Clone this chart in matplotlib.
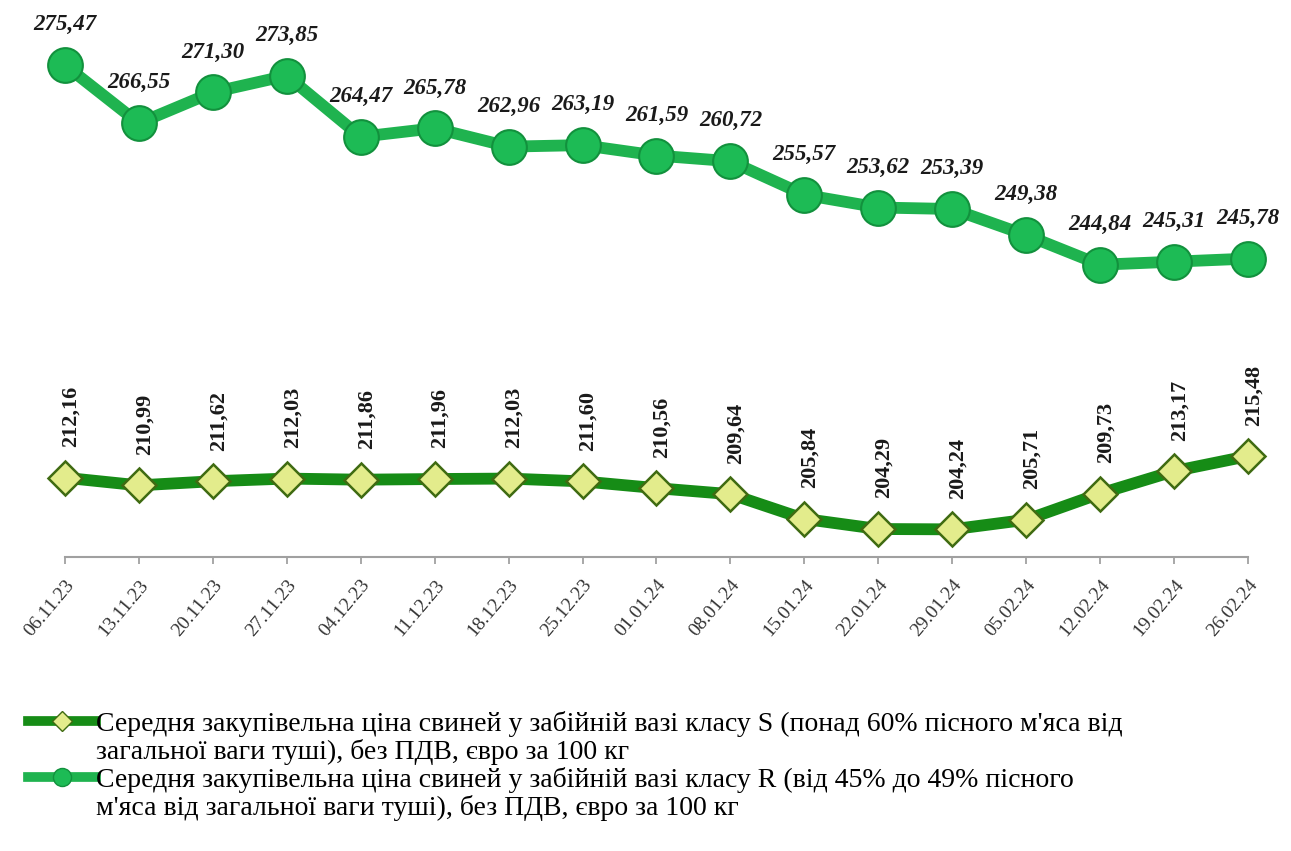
import matplotlib.pyplot as plt
from matplotlib.lines import Line2D

dates = ['06.11.23', '13.11.23', '20.11.23', '27.11.23', '04.12.23', '11.12.23',
         '18.12.23', '25.12.23', '01.01.24', '08.01.24', '15.01.24', '22.01.24',
         '29.01.24', '05.02.24', '12.02.24', '19.02.24', '26.02.24']
class_r = [275.47, 266.55, 271.30, 273.85, 264.47, 265.78, 262.96, 263.19, 261.59,
           260.72, 255.57, 253.62, 253.39, 249.38, 244.84, 245.31, 245.78]
class_s = [212.16, 210.99, 211.62, 212.03, 211.86, 211.96, 212.03, 211.60, 210.56,
           209.64, 205.84, 204.29, 204.24, 205.71, 209.73, 213.17, 215.48]

label_s = ['Середня закупівельна ціна свиней у забійній вазі класу S (понад 60% пісного м\'яса від',
           'загальної ваги туші), без ПДВ, євро за 100 кг']
label_r = ['Середня закупівельна ціна свиней у забійній вазі класу R (від 45% до 49% пісного',
           'м\'яса від загальної ваги туші), без ПДВ, євро за 100 кг']

plt.rcParams['font.family'] = ['Liberation Serif', 'DejaVu Serif']

fig = plt.figure(figsize=(12.91, 8.51), dpi=100)
ax = fig.add_axes([0.0503, 0.3455, 0.9164, 0.651])

x = list(range(len(dates)))

ax.plot(x, class_r, color='#1fb34f', lw=8.5, marker='o', ms=25,
        markerfacecolor='#1dbb55', markeredgecolor='#12913d', markeredgewidth=1.5,
        zorder=3, clip_on=False)
ax.plot(x, class_s, color='#168c16', lw=8.5, marker='D', ms=17,
        markerfacecolor='#e3ec8c', markeredgecolor='#3f6b12', markeredgewidth=1.8,
        zorder=3, clip_on=False)

for i, v in enumerate(class_r):
    ax.annotate(f'{v:.2f}'.replace('.', ','), (i, v), xytext=(0, 29), textcoords='offset points',
                ha='center', va='center', fontsize=16.5, fontweight='bold', fontstyle='italic',
                color='#1a1a1a')

for i, v in enumerate(class_s):
    ax.annotate(f'{v:.2f}'.replace('.', ','), (i, v), xytext=(4, 22), textcoords='offset points',
                ha='center', va='bottom', rotation=90, fontsize=16, fontweight='bold',
                color='#1a1a1a')

ax.set_xlim(0, len(dates) - 1)
ax.set_ylim(200, 285)
ax.set_xticks(x)
ax.set_xticklabels(dates, rotation=50, ha='right', rotation_mode='anchor',
                   fontsize=14, color='#333333')
ax.tick_params(axis='x', length=5, color='#999999', width=1.2, pad=9)
ax.set_yticks([])
for s in ['top', 'right', 'left']:
    ax.spines[s].set_visible(False)
ax.spines['bottom'].set_color('#a0a0a0')
ax.spines['bottom'].set_linewidth(1.5)

h_s = Line2D([], [], color='#168c16', lw=7, marker='D', ms=10,
             markerfacecolor='#e3ec8c', markeredgecolor='#3f6b12')
h_r = Line2D([], [], color='#1fb34f', lw=7, marker='o', ms=13,
             markerfacecolor='#1dbb55', markeredgecolor='#12913d')
blank = Line2D([], [], color='none')

fig.legend([h_s, blank, h_r, blank], [label_s[0], label_s[1], label_r[0], label_r[1]],
           loc='upper left', bbox_to_anchor=(0.022, 0.165), frameon=False,
           fontsize=20, handlelength=2.45, handletextpad=0.0, labelspacing=0.08,
           borderpad=0, borderaxespad=0)

fig.savefig('out.png', dpi=100)
